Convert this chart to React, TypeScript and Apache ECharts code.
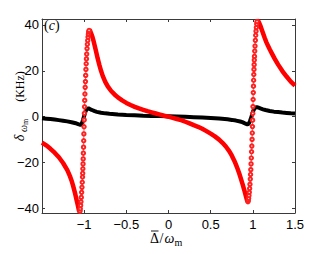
import React, { useEffect, useRef } from "react";
import * as echarts from "echarts";

const xTicks = [-1, -0.5, 0, 0.5, 1, 1.5];
const yTicks = [-40, -20, 0, 20, 40];

// black curve
const blackCurve: [number, number][] = [
  [-1.5, -0.7], [-1.45, -0.85], [-1.4, -1.0], [-1.35, -1.25], [-1.3, -1.5], [-1.25, -1.75], [-1.2, -2.05],
  [-1.15, -2.4], [-1.1, -2.85], [-1.08, -3.1], [-1.06, -3.4], [-1.045, -3.6], [-1.035, -3.4], [-1.025, -2.7],
  [-1.015, -1.6], [-1.005, -0.3], [-0.995, 1.0], [-0.985, 2.2], [-0.975, 3.0], [-0.962, 3.5], [-0.948, 3.6],
  [-0.935, 3.4], [-0.92, 3.1], [-0.9, 2.8], [-0.875, 2.4], [-0.85, 2.1], [-0.8, 1.7], [-0.75, 1.45], [-0.7, 1.25],
  [-0.6, 0.95], [-0.5, 0.75], [-0.4, 0.6], [-0.3, 0.45], [-0.2, 0.35], [-0.1, 0.25], [0, 0.15], [0.1, 0.05],
  [0.2, -0.05], [0.3, -0.2], [0.4, -0.35], [0.5, -0.55], [0.6, -0.8], [0.7, -1.15], [0.75, -1.4], [0.8, -1.7],
  [0.85, -2.1], [0.875, -2.4], [0.9, -2.8], [0.92, -3.1], [0.935, -3.3], [0.945, -3.2], [0.955, -2.8],
  [0.965, -2.0], [0.975, -1.0], [0.985, 0.2], [0.995, 1.4], [1.005, 2.5], [1.015, 3.3], [1.025, 3.8],
  [1.04, 4.1], [1.055, 4.1], [1.07, 3.9], [1.09, 3.6], [1.12, 3.2], [1.15, 2.9], [1.2, 2.5], [1.25, 2.2],
  [1.3, 2.0], [1.35, 1.8], [1.4, 1.65], [1.45, 1.5], [1.5, 1.4],
];

// red curve, smooth left branch
const redLeft: [number, number][] = [
  [-1.5, -11.3], [-1.45, -12.5], [-1.4, -14.0], [-1.35, -15.7], [-1.3, -17.7], [-1.25, -20.2], [-1.2, -23.3],
  [-1.17, -25.8], [-1.15, -27.8], [-1.13, -30.3], [-1.11, -33.1], [-1.1, -34.7], [-1.09, -36.3], [-1.08, -37.9],
  [-1.07, -39.5], [-1.065, -40.4], [-1.06, -41.1], [-1.055, -41.5], [-1.05, -41.2], [-1.047, -40.5],
];

// red curve, steep part near -1 (separate circles)
const redSteepLeft: [number, number][] = [
  [-1.05, -41.2], [-1.046, -40.2], [-1.042, -38.7], [-1.038, -37.1], [-1.034, -35.2], [-1.03, -33.0],
  [-1.026, -30.8], [-1.0225, -28.6], [-1.0195, -26.3], [-1.0175, -24.7], [-1.0155, -22.7], [-1.0135, -20.6],
  [-1.0115, -18.4], [-1.0095, -15.9], [-1.0075, -13.3], [-1.0055, -10.5], [-1.0035, -7.5], [-1.0015, -4.4],
  [-0.9995, -1.4], [-0.9975, 1.5], [-0.9955, 4.3], [-0.9935, 7.1], [-0.991, 9.9], [-0.988, 12.8],
  [-0.985, 15.3], [-0.982, 18.0], [-0.979, 20.6], [-0.976, 23.1], [-0.973, 25.2], [-0.97, 27.3],
  [-0.966, 29.7], [-0.962, 31.6], [-0.958, 33.2], [-0.954, 34.7], [-0.95, 35.9], [-0.946, 36.9], [-0.942, 37.6],
];

// red curve, smooth middle branch
const redMid: [number, number][] = [
  [-0.948, 36.4], [-0.945, 37.1], [-0.942, 37.6], [-0.938, 37.9], [-0.934, 37.8], [-0.93, 37.5], [-0.92, 36.6],
  [-0.91, 35.6], [-0.9, 34.5], [-0.89, 33.2], [-0.88, 31.7], [-0.87, 30.2], [-0.86, 28.6], [-0.85, 27.0],
  [-0.84, 25.4], [-0.83, 24.0], [-0.82, 22.6], [-0.8, 20.0], [-0.78, 17.8], [-0.75, 15.2], [-0.72, 13.2],
  [-0.68, 11.2], [-0.64, 9.7], [-0.6, 8.4], [-0.55, 7.1], [-0.5, 6.0], [-0.45, 5.1], [-0.4, 4.3], [-0.35, 3.6],
  [-0.3, 3.0], [-0.25, 2.4], [-0.2, 1.9], [-0.15, 1.4], [-0.1, 0.9], [-0.05, 0.4], [0, 0], [0.05, -0.5],
  [0.1, -1.0], [0.15, -1.5], [0.2, -2.2], [0.25, -2.9], [0.3, -3.7], [0.35, -4.4], [0.4, -5.3], [0.45, -6.3],
  [0.5, -7.4], [0.55, -8.6], [0.6, -10.0], [0.64, -11.4], [0.68, -13.0], [0.72, -15.0], [0.75, -16.9],
  [0.78, -19.2], [0.8, -20.9], [0.82, -22.8], [0.84, -24.9], [0.86, -27.2], [0.88, -29.6], [0.89, -30.9],
  [0.9, -32.2], [0.91, -33.6], [0.92, -35.0], [0.93, -36.3], [0.936, -37.0], [0.94, -37.2], [0.944, -37.0],
  [0.947, -36.6],
];

// red curve, steep part near +1 (separate circles)
const redSteepRight: [number, number][] = [
  [0.942, -37.1], [0.946, -36.5], [0.95, -35.6], [0.954, -34.4], [0.958, -33.0], [0.962, -31.3],
  [0.966, -29.5], [0.97, -27.2], [0.973, -25.2], [0.976, -23.1], [0.979, -20.6], [0.982, -18.0],
  [0.985, -15.3], [0.988, -12.8], [0.991, -9.9], [0.9935, -7.1], [0.9955, -4.3], [0.9975, -1.5],
  [0.9995, 1.4], [1.0015, 4.4], [1.0035, 7.5], [1.0055, 10.5], [1.0075, 13.3], [1.0095, 15.9],
  [1.0115, 18.4], [1.0135, 20.6], [1.0155, 22.7], [1.0175, 24.7], [1.0195, 26.3], [1.0225, 28.6],
  [1.026, 30.8], [1.03, 33.3], [1.034, 35.5], [1.038, 37.3], [1.042, 38.9], [1.046, 40.4], [1.05, 41.5],
];

// red curve, smooth right branch
const redRight: [number, number][] = [
  [1.047, 40.7], [1.05, 41.5], [1.054, 42.0], [1.058, 42.2], [1.062, 42.0], [1.07, 41.4], [1.08, 40.5],
  [1.09, 39.6], [1.1, 38.6], [1.12, 36.5], [1.14, 34.4], [1.16, 32.5], [1.18, 30.9], [1.2, 29.4],
  [1.23, 27.3], [1.26, 25.2], [1.3, 22.7], [1.35, 19.9], [1.4, 17.5], [1.45, 15.3], [1.5, 13.5],
];

const RED = "#ff0000";
const AXIS = "#3a3a3a";
const SERIF = "'Liberation Serif', 'DejaVu Serif', serif";
const SANS = "'Liberation Sans', Arial, sans-serif";

const fmt = (v: number) => String(v).replace("-", "\u2212");

export default function App() {
  const ref = useRef<HTMLDivElement>(null);
  useEffect(() => {
    if (!ref.current) return;
    const chart = echarts.init(ref.current, undefined, { renderer: "svg" });

    const thick = (data: [number, number][]) => ({
      type: "line",
      data,
      symbol: "none",
      clip: false,
      lineStyle: { color: RED, width: 4.5 },
      z: 3,
    });
    const steep = (data: [number, number][]) => ({
      type: "line",
      data,
      symbol: "emptyCircle",
      symbolSize: 3.4,
      showSymbol: true,
      clip: false,
      lineStyle: { color: "#ff3a3a", width: 0.8 },
      itemStyle: { color: "#ff2020", borderColor: "#ff2020", borderWidth: 0.8 },
      z: 4,
    });

    const baseX = {
      type: "value",
      min: -1.5,
      max: 1.5,
      axisLine: { show: true, onZero: false, lineStyle: { color: AXIS, width: 1 } },
      axisTick: { show: true, inside: true, length: 3, customValues: xTicks, lineStyle: { color: AXIS } },
      splitLine: { show: false },
    };
    const baseY = {
      type: "value",
      min: -42,
      max: 42.6,
      axisLine: { show: true, onZero: false, lineStyle: { color: AXIS, width: 1 } },
      axisTick: { show: true, inside: true, length: 3, customValues: yTicks, lineStyle: { color: AXIS } },
      splitLine: { show: false },
    };

    chart.setOption({
      animation: false,
      backgroundColor: "#ffffff",
      grid: { left: 42, top: 19, width: 253, height: 194, containLabel: false },
      xAxis: [
        {
          ...baseX,
          position: "bottom",
          axisLabel: {
            customValues: xTicks,
            formatter: fmt,
            fontFamily: SANS,
            fontSize: 13,
            color: "#000",
            margin: 5,
          },
        },
        { ...baseX, position: "top", axisLabel: { show: false } },
      ],
      yAxis: [
        {
          ...baseY,
          position: "left",
          axisLabel: {
            customValues: yTicks,
            formatter: fmt,
            fontFamily: SANS,
            fontSize: 13,
            color: "#000",
            margin: 3,
          },
        },
        { ...baseY, position: "right", axisLabel: { show: false } },
      ],
      series: [
        {
          type: "line",
          data: blackCurve,
          symbol: "none",
          clip: false,
          lineStyle: { color: "#000", width: 4 },
          z: 2,
        },
        thick(redLeft),
        thick(redMid),
        thick(redRight),
        steep(redSteepLeft),
        steep(redSteepRight),
      ],
      graphic: [
        {
          type: "text",
          x: 44,
          y: 25.5,
          style: {
            text: "{p|(}{i|c}{p|)}",
            verticalAlign: "middle",
            rich: {
              p: { fontFamily: SERIF, fontSize: 14, fill: "#000" },
              i: { fontFamily: SERIF, fontSize: 14, fontStyle: "italic", fill: "#000" },
            },
          },
          z: 10,
        },
        // y label
        {
          type: "text",
          x: 20,
          y: 86.5,
          rotation: Math.PI / 2,
          style: { text: "(KHz)", fontFamily: SERIF, fontSize: 12, fill: "#000", align: "center", verticalAlign: "middle" },
        },
        {
          type: "text",
          x: 19,
          y: 138,
          rotation: Math.PI / 2,
          style: { text: "δ", fontFamily: SERIF, fontSize: 14, fontStyle: "italic", fill: "#000", align: "center", verticalAlign: "middle" },
        },
        {
          type: "text",
          x: 23.5,
          y: 128.5,
          rotation: Math.PI / 2,
          style: { text: "ω", fontFamily: SERIF, fontSize: 10, fontStyle: "italic", fill: "#000", align: "center", verticalAlign: "middle" },
        },
        {
          type: "text",
          x: 25.5,
          y: 122,
          rotation: Math.PI / 2,
          style: { text: "m", fontFamily: SERIF, fontSize: 8, fill: "#000", align: "center", verticalAlign: "middle" },
        },
        // x label
        {
          type: "text",
          x: 150,
          y: 238.5,
          style: { text: "\u0394", fontFamily: SERIF, fontSize: 14, fill: "#000", align: "left", verticalAlign: "middle" },
        },
        {
          type: "line",
          shape: { x1: 151, y1: 231, x2: 158.5, y2: 231 },
          style: { stroke: "#000", lineWidth: 0.9 },
        },
        {
          type: "text",
          x: 159.5,
          y: 238.5,
          style: { text: "/", fontFamily: SERIF, fontSize: 14, fill: "#000", align: "left", verticalAlign: "middle" },
        },
        {
          type: "text",
          x: 164.5,
          y: 238.5,
          style: { text: "ω", fontFamily: SERIF, fontSize: 14, fontStyle: "italic", fill: "#000", align: "left", verticalAlign: "middle" },
        },
        {
          type: "text",
          x: 174.5,
          y: 242,
          style: { text: "m", fontFamily: SERIF, fontSize: 10, fill: "#000", align: "left", verticalAlign: "middle" },
        },
      ],
    });
    return () => chart.dispose();
  }, []);

  return (
    <div
      ref={ref}
      style={{ position: "fixed", left: 0, top: 0, width: 327, height: 254, background: "#fff" }}
    />
  );
}
